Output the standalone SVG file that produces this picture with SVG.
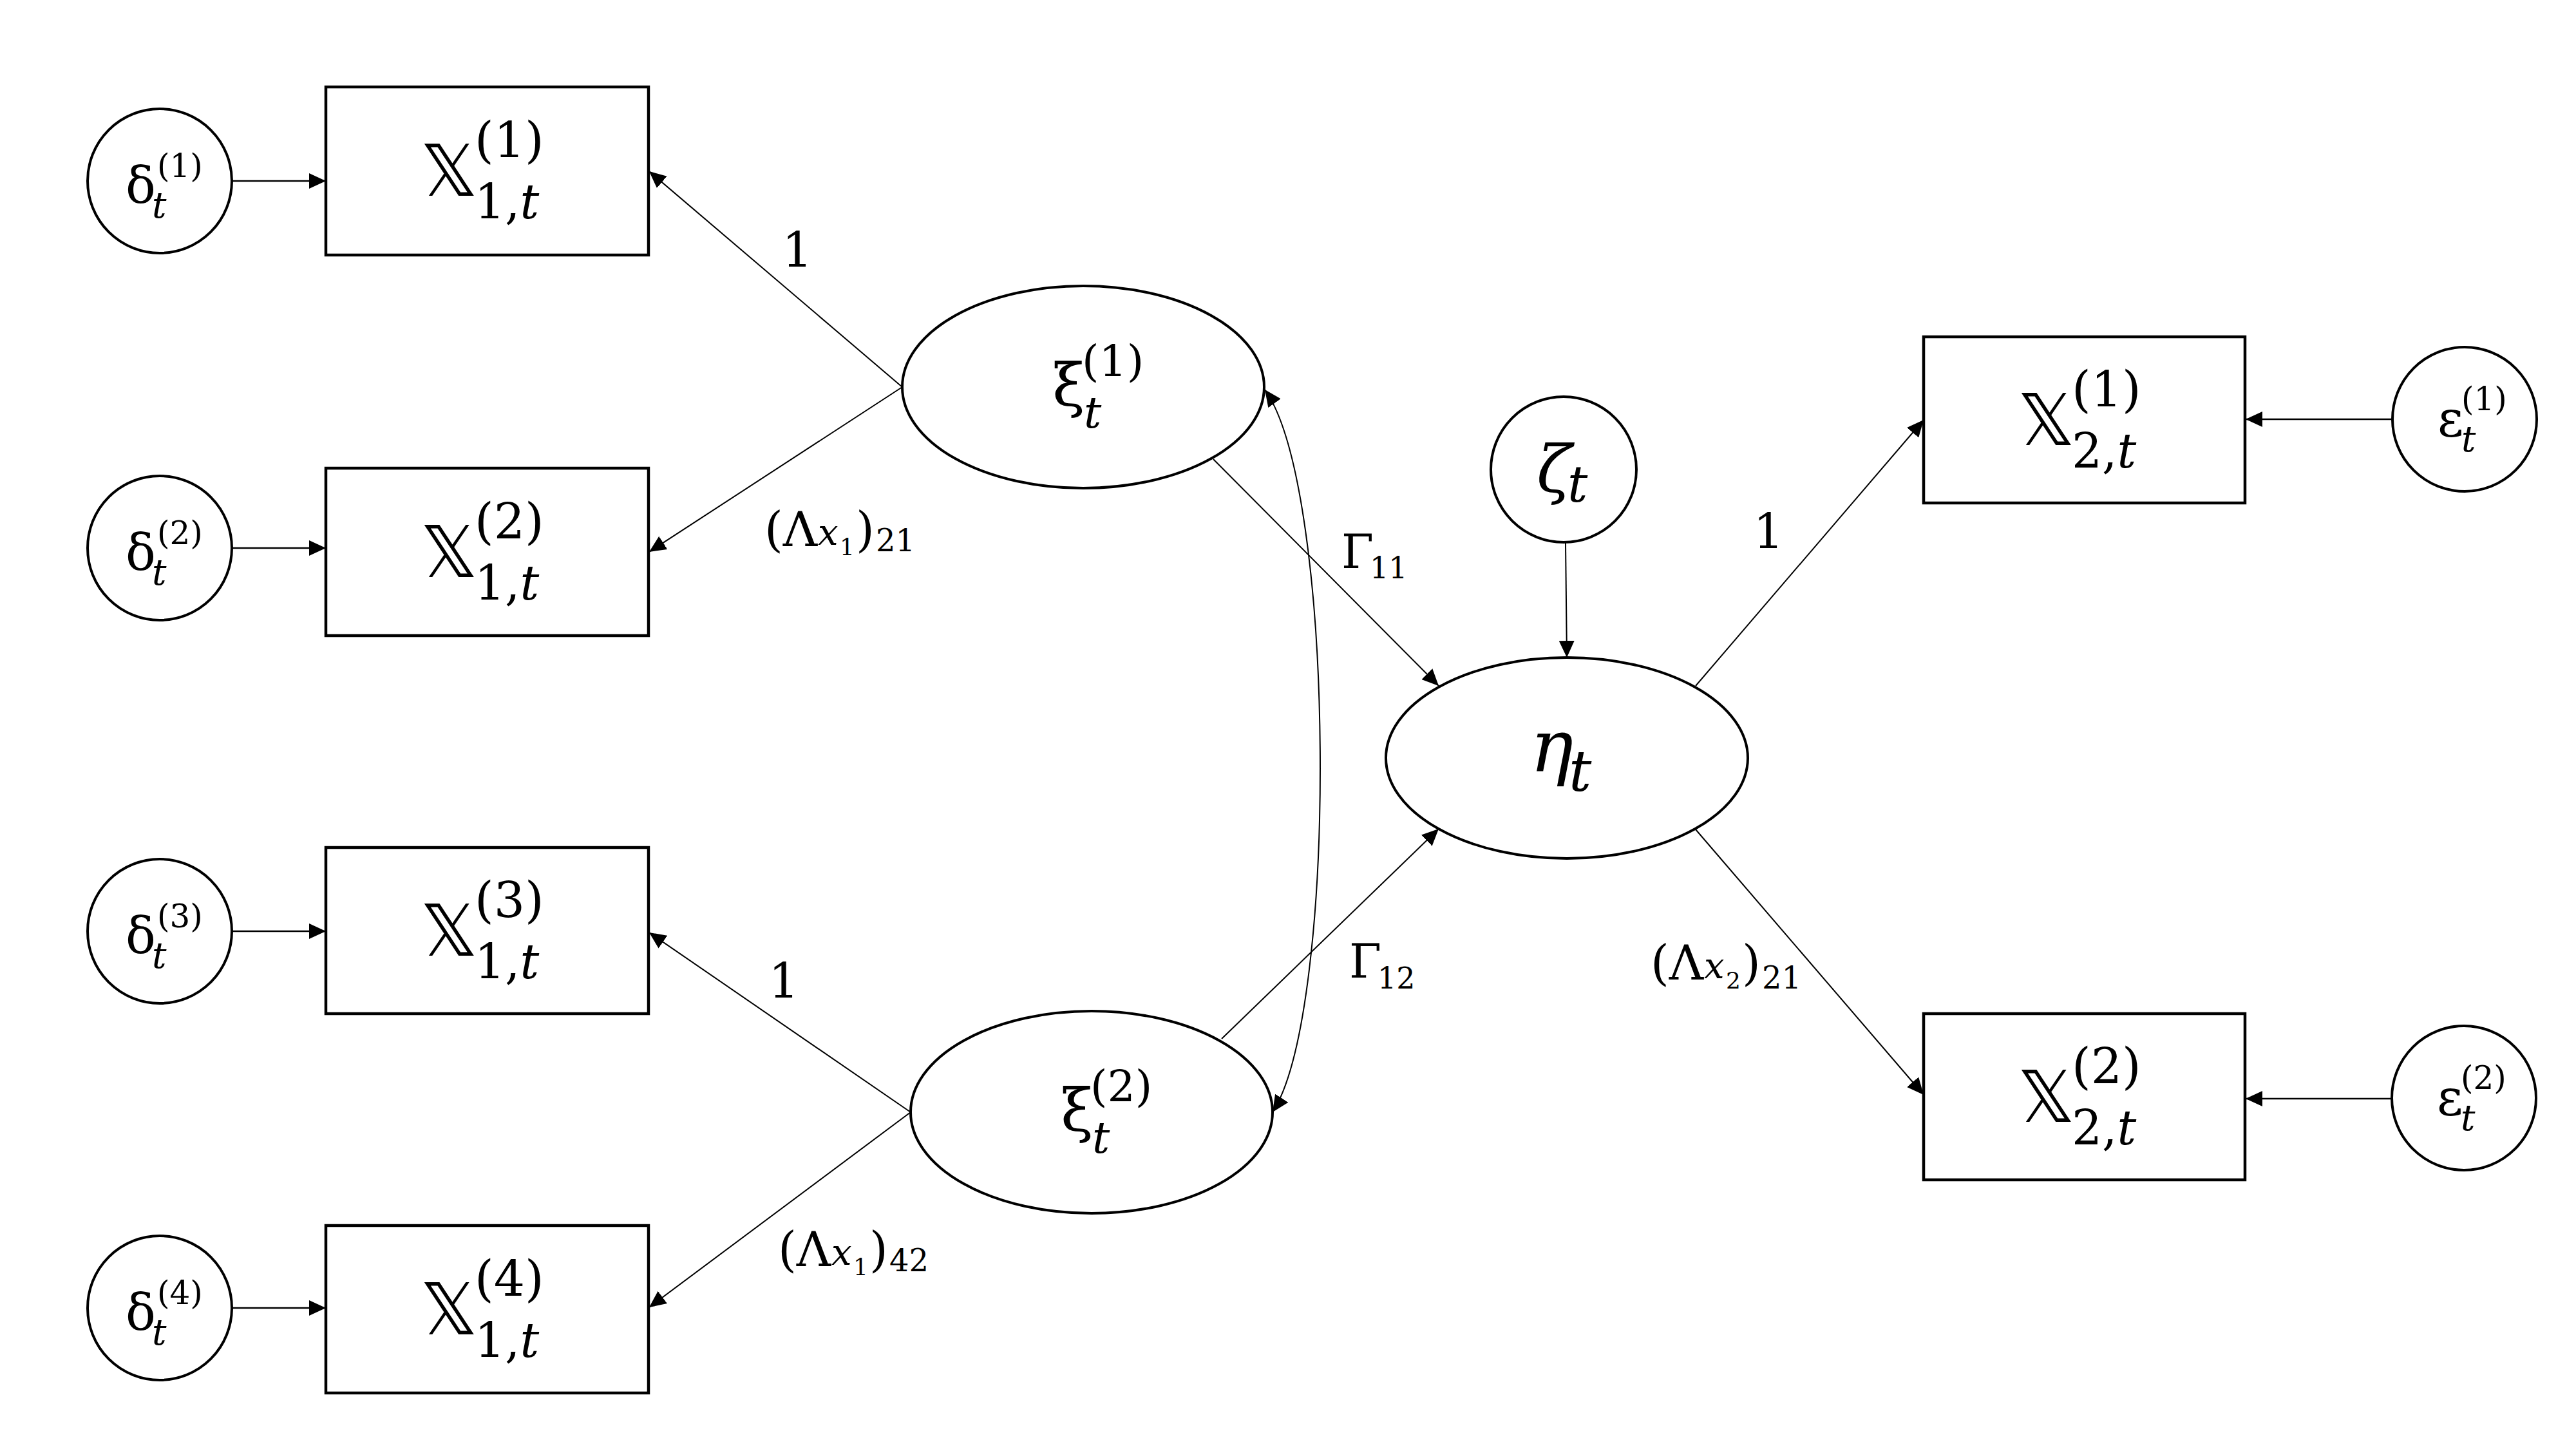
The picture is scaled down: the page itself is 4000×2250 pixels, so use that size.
<svg xmlns="http://www.w3.org/2000/svg" width="4000" height="2250" viewBox="0 0 4000 2250">
<defs>
<style>
.bx{fill:#fff;stroke:#000;stroke-width:4.5}
.nd{fill:#fff;stroke:#000;stroke-width:4}
.ln{fill:none;stroke:#000;stroke-width:2}
.lt{fill:none;stroke:#000;stroke-width:2.5}
text{font-family:"DejaVu Serif","DejaVu Sans",serif;fill:#000}
.i{font-style:italic}
.bb{font-family:"DejaVu Sans","DejaVu Serif",sans-serif}
</style>
<marker id="ah" markerUnits="userSpaceOnUse" markerWidth="26" markerHeight="24" viewBox="0 0 26 24" refX="26" refY="12" orient="auto-start-reverse">
<path d="M0,0 L26,12 L0,24 Z" fill="#000"/>
</marker>
</defs>
<rect width="4000" height="2250" fill="#fff"/>

<g id="connectors">
<line class="lt" x1="360" y1="281" x2="506" y2="281" marker-end="url(#ah)"/>
<line class="lt" x1="360" y1="851" x2="506" y2="851" marker-end="url(#ah)"/>
<line class="lt" x1="360" y1="1446" x2="506" y2="1446" marker-end="url(#ah)"/>
<line class="lt" x1="360" y1="2031" x2="506" y2="2031" marker-end="url(#ah)"/>
<line class="lt" x1="3715" y1="651" x2="3487" y2="651" marker-end="url(#ah)"/>
<line class="lt" x1="3714" y1="1706" x2="3487" y2="1706" marker-end="url(#ah)"/>
<line class="ln" x1="1401" y1="601" x2="1008" y2="266" marker-end="url(#ah)"/>
<line class="ln" x1="1401" y1="601" x2="1008" y2="857" marker-end="url(#ah)"/>
<line class="ln" x1="1414" y1="1727" x2="1008" y2="1448" marker-end="url(#ah)"/>
<line class="ln" x1="1414" y1="1727" x2="1008" y2="2030" marker-end="url(#ah)"/>
<line class="ln" x1="1884" y1="713" x2="2234" y2="1065" marker-end="url(#ah)"/>
<line class="ln" x1="1897" y1="1613" x2="2234" y2="1287" marker-end="url(#ah)"/>
<line class="ln" x1="2431" y1="843" x2="2433" y2="1021" marker-end="url(#ah)"/>
<line class="ln" x1="2633" y1="1065" x2="2987" y2="652" marker-end="url(#ah)"/>
<line class="ln" x1="2633" y1="1288" x2="2987" y2="1700" marker-end="url(#ah)"/>
<path class="ln" d="M1964,605 C2075,760 2078,1570 1976,1727" marker-start="url(#ah)" marker-end="url(#ah)"/>

<text x="1238" y="414" font-size="74" text-anchor="middle">1</text>
<text font-size="74"><tspan x="1187" y="848">(Λ</tspan><tspan class="i" x="1270" y="846" font-size="56">x</tspan><tspan x="1304" y="862" font-size="36">1</tspan><tspan x="1329" y="848">)</tspan><tspan x="1360" y="856" font-size="48">21</tspan></text>
<text x="1217" y="1549" font-size="74" text-anchor="middle">1</text>
<text font-size="74"><tspan x="1208" y="1966">(Λ</tspan><tspan class="i" x="1291" y="1964" font-size="56">x</tspan><tspan x="1325" y="1980" font-size="36">1</tspan><tspan x="1350" y="1966">)</tspan><tspan x="1381" y="1974" font-size="48">42</tspan></text>
<text font-size="72"><tspan x="2083" y="882">Γ</tspan><tspan x="2127" y="898" font-size="46">11</tspan></text>
<text font-size="72"><tspan x="2095" y="1518">Γ</tspan><tspan x="2139" y="1535" font-size="46">12</tspan></text>
<text x="2746" y="851" font-size="74" text-anchor="middle">1</text>
<text font-size="74"><tspan x="2563" y="1521">(Λ</tspan><tspan class="i" x="2646" y="1519" font-size="56">x</tspan><tspan x="2680" y="1535" font-size="36">2</tspan><tspan x="2705" y="1521">)</tspan><tspan x="2736" y="1535" font-size="48">21</tspan></text>
</g>

<g id="delta1"><circle class="nd" cx="248" cy="281" r="112"/><text font-size="78"><tspan x="195" y="315">δ</tspan><tspan x="244" y="275" font-size="50">(1)</tspan><tspan class="i" x="236" y="338" font-size="56">t</tspan></text></g>
<g id="delta2"><circle class="nd" cx="248" cy="851" r="112"/><text font-size="78"><tspan x="195" y="885">δ</tspan><tspan x="244" y="845" font-size="50">(2)</tspan><tspan class="i" x="236" y="908" font-size="56">t</tspan></text></g>
<g id="delta3"><circle class="nd" cx="248" cy="1446" r="112"/><text font-size="78"><tspan x="195" y="1480">δ</tspan><tspan x="244" y="1440" font-size="50">(3)</tspan><tspan class="i" x="236" y="1503" font-size="56">t</tspan></text></g>
<g id="delta4"><circle class="nd" cx="248" cy="2031" r="112"/><text font-size="78"><tspan x="195" y="2065">δ</tspan><tspan x="244" y="2025" font-size="50">(4)</tspan><tspan class="i" x="236" y="2088" font-size="56">t</tspan></text></g>

<g id="X11"><rect class="bx" x="506" y="135" width="501" height="261"/><text font-size="74"><tspan class="bb" x="653" y="304" font-size="110">𝕏</tspan><tspan x="737" y="244" font-size="76">(1)</tspan><tspan x="737" y="339">1,</tspan><tspan class="i">t</tspan></text></g>
<g id="X12"><rect class="bx" x="506" y="727" width="501" height="260"/><text font-size="74"><tspan class="bb" x="653" y="896" font-size="110">𝕏</tspan><tspan x="737" y="836" font-size="76">(2)</tspan><tspan x="737" y="931">1,</tspan><tspan class="i">t</tspan></text></g>
<g id="X13"><rect class="bx" x="506" y="1316" width="501" height="258"/><text font-size="74"><tspan class="bb" x="653" y="1484" font-size="110">𝕏</tspan><tspan x="737" y="1424" font-size="76">(3)</tspan><tspan x="737" y="1519">1,</tspan><tspan class="i">t</tspan></text></g>
<g id="X14"><rect class="bx" x="506" y="1903" width="501" height="260"/><text font-size="74"><tspan class="bb" x="653" y="2072" font-size="110">𝕏</tspan><tspan x="737" y="2012" font-size="76">(4)</tspan><tspan x="737" y="2107">1,</tspan><tspan class="i">t</tspan></text></g>

<g id="xi1"><ellipse class="nd" cx="1682" cy="601" rx="281" ry="157"/><text font-size="92"><tspan x="1634" y="630">ξ</tspan><tspan x="1680" y="584" font-size="68">(1)</tspan><tspan class="i" x="1683" y="664" font-size="68">t</tspan></text></g>
<g id="xi2"><ellipse class="nd" cx="1695" cy="1727" rx="281" ry="157"/><text font-size="92"><tspan x="1647" y="1756">ξ</tspan><tspan x="1693" y="1710" font-size="68">(2)</tspan><tspan class="i" x="1696" y="1790" font-size="68">t</tspan></text></g>

<g id="zeta"><circle class="nd" cx="2428" cy="729" r="113"/><text font-size="100"><tspan class="i" x="2386" y="763">ζ</tspan><tspan class="i" x="2434" y="779" font-size="78">t</tspan></text></g>
<g id="eta"><ellipse class="nd" cx="2433" cy="1177" rx="281" ry="156"/><text font-size="112"><tspan class="i" x="2376" y="1198">η</tspan><tspan class="i" x="2436" y="1228" font-size="88">t</tspan></text></g>

<g id="X21"><rect class="bx" x="2987" y="523" width="499" height="258"/><text font-size="74"><tspan class="bb" x="3133" y="691" font-size="110">𝕏</tspan><tspan x="3217" y="631" font-size="76">(1)</tspan><tspan x="3217" y="726">2,</tspan><tspan class="i">t</tspan></text></g>
<g id="X22"><rect class="bx" x="2987" y="1574" width="499" height="258"/><text font-size="74"><tspan class="bb" x="3133" y="1742" font-size="110">𝕏</tspan><tspan x="3217" y="1682" font-size="76">(2)</tspan><tspan x="3217" y="1777">2,</tspan><tspan class="i">t</tspan></text></g>

<g id="eps1"><circle class="nd" cx="3827" cy="651" r="112"/><text font-size="78"><tspan x="3785" y="678">ε</tspan><tspan x="3822" y="637" font-size="50">(1)</tspan><tspan class="i" x="3822" y="701" font-size="56">t</tspan></text></g>
<g id="eps2"><circle class="nd" cx="3826" cy="1705" r="112"/><text font-size="78"><tspan x="3784" y="1732">ε</tspan><tspan x="3821" y="1691" font-size="50">(2)</tspan><tspan class="i" x="3821" y="1755" font-size="56">t</tspan></text></g>
</svg>
